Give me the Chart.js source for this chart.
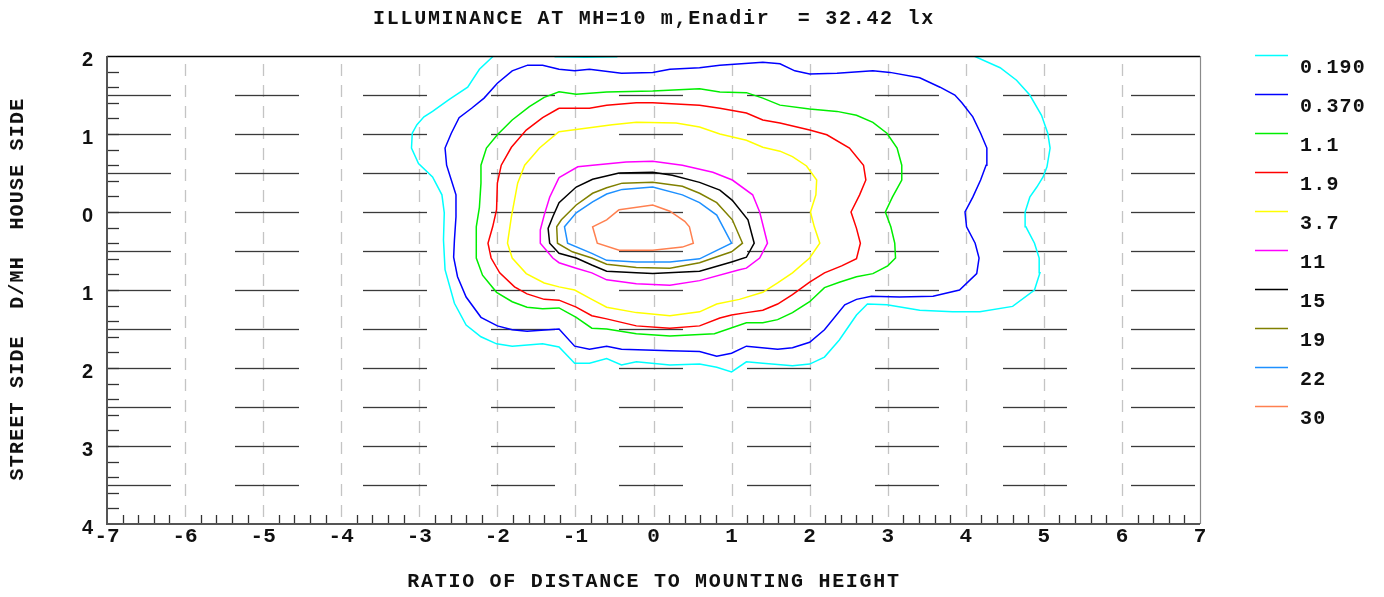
<!DOCTYPE html>
<html>
<head>
<meta charset="utf-8">
<script src="https://cdn.jsdelivr.net/npm/chart.js@4.4.1/dist/chart.umd.min.js"></script>
<style>
  html, body { margin: 0; padding: 0; background: #fff; }
  #wrap { width: 1384px; height: 597px; }
</style>
</head>
<body>
<div id="wrap"><canvas id="chart" width="1384" height="597"></canvas></div>
<script>
const TITLE = "ILLUMINANCE AT MH=10 m,Enadir  = 32.42 lx";
const X_TITLE = "RATIO OF DISTANCE TO MOUNTING HEIGHT";
const Y_TITLE = "STREET SIDE  D/MH  HOUSE SIDE";

const xTicks = [-7, -6, -5, -4, -3, -2, -1, 0, 1, 2, 3, 4, 5, 6, 7];
const yTicks = [2, 1, 0, -1, -2, -3, -4];
const yTickLabels = ["2", "1", "0", "1", "2", "3", "4"];
const hLines = [1.5, 1, 0.5, 0, -0.5, -1, -1.5, -2, -2.5, -3, -3.5];

const levels = ["0.190", "0.370", "1.1", "1.9", "3.7", "11", "15", "19", "22", "30"];

// isolux contours, [ratio x, ratio y] (y > 0 house side)
const c019 = [[-1.85,2.21],[-2.05,2.00],[-2.23,1.83],[-2.38,1.60],[-2.62,1.44],[-2.83,1.29],[-2.94,1.22],
  [-3.03,1.12],[-3.09,1.01],[-3.10,0.82],[-3.01,0.62],[-2.83,0.45],[-2.71,0.22],[-2.68,-0.01],[-2.69,-0.36],
  [-2.67,-0.74],[-2.55,-1.17],[-2.40,-1.45],[-2.21,-1.60],[-2.01,-1.69],[-1.81,-1.72],[-1.42,-1.69],
  [-1.21,-1.73],[-1.01,-1.94],[-0.82,-1.94],[-0.60,-1.88],[-0.41,-1.96],[-0.22,-1.92],[0.21,-1.96],
  [0.59,-1.95],[0.81,-1.99],[1.00,-2.05],[1.19,-1.92],[1.40,-1.94],[1.78,-1.97],[2.00,-1.95],[2.19,-1.86],
  [2.38,-1.64],[2.60,-1.32],[2.74,-1.18],[2.99,-1.19],[3.41,-1.26],[3.83,-1.28],[4.18,-1.28],[4.60,-1.21],
  [4.88,-1.00],[4.95,-0.78],[4.94,-0.59],[4.88,-0.40],[4.77,-0.19],[4.76,0.00],[4.82,0.19],[4.91,0.32],
  [4.99,0.45],[5.04,0.58],[5.08,0.82],[5.05,1.01],[4.97,1.24],[4.82,1.50],[4.65,1.69],[4.44,1.85],
  [4.08,2.01],[3.86,2.21],[-0.37,2.21],[-0.47,1.99],[-0.87,1.985],[-1.26,1.99],[-1.36,2.21],[-1.85,2.21]];
const c037 = [[-1.62,1.88],[-1.81,1.81],[-2.00,1.65],[-2.17,1.46],[-2.33,1.33],[-2.49,1.21],[-2.59,1.01],
  [-2.67,0.82],[-2.65,0.60],[-2.59,0.41],[-2.53,0.22],[-2.53,-0.06],[-2.55,-0.36],[-2.56,-0.58],[-2.51,-0.83],
  [-2.40,-1.09],[-2.21,-1.35],[-2.00,-1.46],[-1.81,-1.51],[-1.62,-1.53],[-1.21,-1.50],[-1.01,-1.72],
  [-0.82,-1.76],[-0.60,-1.72],[-0.41,-1.76],[0.21,-1.78],[0.59,-1.79],[0.81,-1.85],[1.00,-1.81],[1.19,-1.72],
  [1.59,-1.76],[1.78,-1.74],[2.00,-1.67],[2.19,-1.51],[2.45,-1.19],[2.60,-1.12],[2.79,-1.08],[3.15,-1.09],
  [3.58,-1.08],[3.92,-1.00],[4.14,-0.79],[4.17,-0.59],[4.12,-0.40],[4.01,-0.19],[3.99,0.00],[4.09,0.19],
  [4.19,0.41],[4.26,0.60],[4.27,0.82],[4.19,1.01],[4.09,1.22],[3.95,1.40],[3.86,1.50],[3.67,1.60],[3.41,1.72],
  [3.03,1.79],[2.81,1.81],[2.35,1.78],[2.00,1.77],[1.81,1.81],[1.62,1.90],[1.40,1.92],[0.85,1.88],[0.59,1.85],
  [0.21,1.83],[-0.01,1.79],[-0.41,1.78],[-0.82,1.83],[-1.01,1.81],[-1.21,1.83],[-1.42,1.88],[-1.62,1.88]];
const c11 = [[-1.40,1.47],[-1.59,1.35],[-1.81,1.18],[-2.00,0.99],[-2.14,0.82],[-2.21,0.60],[-2.21,0.37],
  [-2.23,0.06],[-2.27,-0.19],[-2.27,-0.59],[-2.19,-0.81],[-2.01,-1.03],[-1.81,-1.15],[-1.62,-1.22],[-1.42,-1.24],
  [-1.21,-1.23],[-0.99,-1.35],[-0.79,-1.49],[-0.60,-1.50],[-0.22,-1.56],[0.21,-1.59],[0.78,-1.56],[1.19,-1.42],
  [1.40,-1.42],[1.59,-1.38],[1.78,-1.29],[2.00,-1.15],[2.19,-0.97],[2.38,-0.90],[2.60,-0.83],[2.81,-0.79],
  [3.00,-0.69],[3.10,-0.59],[3.09,-0.40],[3.04,-0.19],[2.97,0.00],[3.06,0.19],[3.18,0.41],[3.18,0.60],[3.12,0.82],
  [2.99,1.01],[2.81,1.15],[2.60,1.24],[2.35,1.29],[2.00,1.32],[1.62,1.37],[1.40,1.46],[1.19,1.53],[0.85,1.54],
  [0.59,1.58],[-0.01,1.55],[-0.60,1.54],[-0.99,1.51],[-1.21,1.54],[-1.40,1.47]];
const c19 = [[-1.21,1.33],[-1.42,1.21],[-1.63,1.05],[-1.82,0.83],[-1.95,0.60],[-2.00,0.37],[-2.01,0.03],
  [-2.06,-0.19],[-2.12,-0.40],[-2.08,-0.59],[-1.97,-0.78],[-1.78,-0.96],[-1.62,-1.05],[-1.40,-1.12],[-1.21,-1.13],
  [-0.99,-1.22],[-0.79,-1.33],[-0.60,-1.37],[-0.22,-1.46],[0.21,-1.49],[0.59,-1.46],[0.85,-1.36],[1.00,-1.32],
  [1.19,-1.29],[1.40,-1.26],[1.59,-1.18],[1.78,-1.06],[2.00,-0.90],[2.19,-0.78],[2.41,-0.69],[2.60,-0.60],
  [2.65,-0.40],[2.60,-0.21],[2.53,0.00],[2.64,0.22],[2.72,0.41],[2.69,0.60],[2.51,0.82],[2.22,0.99],[2.00,1.05],
  [1.62,1.14],[1.40,1.18],[1.19,1.27],[0.85,1.33],[0.59,1.37],[-0.01,1.40],[-0.22,1.40],[-0.60,1.37],
  [-0.82,1.33],[-1.21,1.33]];
const c37 = [[-1.21,1.03],[-1.46,0.82],[-1.65,0.60],[-1.74,0.37],[-1.82,-0.06],[-1.87,-0.40],[-1.81,-0.59],
  [-1.63,-0.79],[-1.40,-0.91],[-1.21,-0.96],[-1.01,-1.00],[-0.79,-1.12],[-0.60,-1.22],[-0.22,-1.29],[0.21,-1.33],
  [0.59,-1.28],[0.81,-1.18],[1.10,-1.12],[1.40,-1.03],[1.59,-0.91],[1.78,-0.78],[2.00,-0.59],[2.13,-0.40],
  [2.06,-0.19],[2.01,0.00],[2.08,0.22],[2.09,0.41],[1.96,0.59],[1.78,0.71],[1.62,0.78],[1.40,0.83],[1.19,0.92],
  [0.85,1.00],[0.59,1.09],[0.29,1.14],[-0.22,1.15],[-0.53,1.12],[-0.82,1.08],[-1.21,1.03]];
const c110 = [[-1.21,0.44],[-0.97,0.58],[-0.78,0.60],[-0.35,0.64],[-0.01,0.65],[0.37,0.60],[0.76,0.51],
  [1.01,0.41],[1.27,0.22],[1.36,0.00],[1.46,-0.40],[1.36,-0.59],[1.19,-0.72],[1.10,-0.74],[0.59,-0.88],
  [0.21,-0.94],[-0.22,-0.92],[-0.60,-0.87],[-0.79,-0.78],[-0.99,-0.72],[-1.21,-0.65],[-1.29,-0.59],[-1.45,-0.40],
  [-1.45,-0.23],[-1.40,-0.04],[-1.33,0.19],[-1.21,0.44]];
const c150 = [[-0.44,0.50],[-0.01,0.51],[0.24,0.47],[0.59,0.38],[0.85,0.28],[1.01,0.15],[1.21,-0.10],
  [1.29,-0.40],[1.19,-0.58],[1.00,-0.64],[0.59,-0.76],[-0.01,-0.79],[-0.22,-0.78],[-0.60,-0.76],[-0.79,-0.68],
  [-0.99,-0.59],[-1.21,-0.53],[-1.33,-0.40],[-1.35,-0.21],[-1.29,-0.06],[-1.21,0.12],[-0.99,0.32],[-0.78,0.42],
  [-0.44,0.50]];
const c190 = [[-0.40,0.37],[-0.01,0.38],[0.37,0.33],[0.59,0.24],[0.81,0.12],[1.01,-0.10],[1.14,-0.40],
  [1.00,-0.51],[0.85,-0.56],[0.59,-0.65],[0.21,-0.72],[-0.22,-0.71],[-0.60,-0.67],[-0.79,-0.59],[-1.04,-0.51],
  [-1.23,-0.40],[-1.24,-0.19],[-1.18,-0.10],[-0.99,0.09],[-0.78,0.24],[-0.60,0.31],[-0.40,0.37]];
const c220 = [[-0.40,0.29],[-0.01,0.32],[0.37,0.22],[0.59,0.12],[0.81,-0.04],[1.00,-0.40],[0.59,-0.60],
  [0.21,-0.64],[-0.22,-0.64],[-0.60,-0.62],[-0.79,-0.53],[-1.10,-0.40],[-1.14,-0.19],[-0.99,-0.01],[-0.78,0.13],
  [-0.60,0.23],[-0.40,0.29]];
const c300 = [[-0.44,0.03],[-0.01,0.09],[0.21,0.01],[0.40,-0.12],[0.46,-0.19],[0.51,-0.40],[0.37,-0.45],
  [-0.01,-0.49],[-0.44,-0.49],[-0.72,-0.40],[-0.78,-0.19],[-0.60,-0.10],[-0.44,0.03]];

const contours = [c019, c037, c11, c19, c37, c110, c150, c190, c220, c300];
const colors = ["#00ffff", "#0000ff", "#00ee00", "#ff0000", "#ffff00", "#ff00ff", "#000000", "#808000", "#1e90ff", "#ff8050"];

const MONO = '"Liberation Mono", "DejaVu Sans Mono", monospace';
const SANS = '"Liberation Sans", Arial, sans-serif';

const frame = {
  id: "frame",
  beforeDatasetsDraw(chart) {
    const { ctx, chartArea: a, scales: { x, y } } = chart;
    ctx.save();
    // vertical dashed grid
    ctx.strokeStyle = "#c4c4c4";
    ctx.lineWidth = 1.3;
    ctx.setLineDash([12, 9]);
    ctx.lineDashOffset = 13;
    xTicks.slice(1, -1).forEach((v) => {
      const px = Math.round(x.getPixelForValue(v)) + 0.5;
      ctx.beginPath();
      ctx.moveTo(px, a.top);
      ctx.lineTo(px, a.bottom);
      ctx.stroke();
    });
    // horizontal long dashes
    ctx.strokeStyle = "#3a3a3a";
    ctx.lineWidth = 1.3;
    ctx.setLineDash([64, 64]);
    ctx.lineDashOffset = 0;
    hLines.forEach((v) => {
      const py = Math.round(y.getPixelForValue(v)) + 0.5;
      ctx.beginPath();
      ctx.moveTo(a.left, py);
      ctx.lineTo(a.right, py);
      ctx.stroke();
    });
    ctx.setLineDash([]);
    // minor ticks
    ctx.strokeStyle = "#333";
    ctx.lineWidth = 1.3;
    for (let k = -19; k < 10; k++) {
      const py = Math.round(y.getPixelForValue(k * 0.2)) + 0.5;
      ctx.beginPath();
      ctx.moveTo(a.left, py);
      ctx.lineTo(a.left + 12, py);
      ctx.stroke();
    }
    for (let k = -34; k < 35; k++) {
      if (k % 5 === 0) continue;
      const px = Math.round(x.getPixelForValue(k * 0.2)) + 0.5;
      ctx.beginPath();
      ctx.moveTo(px, a.bottom);
      ctx.lineTo(px, a.bottom - 9);
      ctx.stroke();
    }
    ctx.restore();
  },
  afterDraw(chart) {
    const { ctx, chartArea: a, scales: { x, y } } = chart;
    ctx.save();
    // frame
    ctx.lineWidth = 1.5;
    ctx.strokeStyle = "#000";
    ctx.beginPath();
    ctx.moveTo(a.left, a.top + 0.5);
    ctx.lineTo(a.right, a.top + 0.5);
    ctx.stroke();
    ctx.strokeStyle = "#8a8a8a";
    ctx.lineWidth = 1.2;
    ctx.beginPath();
    ctx.moveTo(a.right + 0.5, a.top);
    ctx.lineTo(a.right + 0.5, a.bottom);
    ctx.stroke();
    ctx.strokeStyle = "#555";
    ctx.lineWidth = 2;
    ctx.beginPath();
    ctx.moveTo(a.left, a.top);
    ctx.lineTo(a.left, a.bottom);
    ctx.lineTo(a.right, a.bottom);
    ctx.stroke();

    ctx.fillStyle = "#111";
    // y tick labels
    ctx.font = "bold 20px " + SANS;
    ctx.textAlign = "right";
    ctx.textBaseline = "middle";
    yTicks.forEach((v, i) => {
      ctx.fillText(yTickLabels[i], 93, y.getPixelForValue(v) + 4);
    });
    // x tick labels
    ctx.font = "bold 21px " + MONO;
    ctx.textAlign = "center";
    xTicks.forEach((v) => {
      ctx.fillText(String(v), x.getPixelForValue(v), 537);
    });
    // titles
    ctx.font = "bold 20px " + MONO;
    ctx.letterSpacing = "1.7px";
    ctx.fillText(TITLE, 654, 19);
    ctx.fillText(X_TITLE, 654, 582);
    ctx.save();
    ctx.translate(18, 289);
    ctx.rotate(-Math.PI / 2);
    ctx.letterSpacing = "1.2px";
    ctx.fillText(Y_TITLE, 0, 0);
    ctx.restore();
    // legend
    ctx.textAlign = "left";
    ctx.letterSpacing = "1.2px";
    levels.forEach((lab, i) => {
      const ly = 55.5 + 39 * i;
      ctx.strokeStyle = colors[i];
      ctx.lineWidth = 1.5;
      ctx.beginPath();
      ctx.moveTo(1255, ly);
      ctx.lineTo(1288, ly);
      ctx.stroke();
      ctx.fillText(lab, 1300, ly + 12);
    });
    ctx.restore();
  },
};

new Chart(document.getElementById("chart"), {
  type: "scatter",
  data: {
    datasets: contours.map((pts, i) => ({
      label: levels[i],
      data: pts.map(([px, py]) => ({ x: px, y: py })),
      showLine: true,
      borderColor: colors[i],
      borderWidth: 1.5,
      pointRadius: 0,
      tension: 0,
      clip: 0,
    })),
  },
  options: {
    responsive: false,
    animation: false,
    devicePixelRatio: 1,
    layout: { padding: { left: 107, right: 184, top: 56, bottom: 73 } },
    plugins: { legend: { display: false }, tooltip: { enabled: false } },
    scales: {
      x: { type: "linear", min: -7, max: 7, display: false },
      y: { type: "linear", min: -4, max: 2, display: false },
    },
  },
  plugins: [frame],
});
</script>
</body>
</html>
